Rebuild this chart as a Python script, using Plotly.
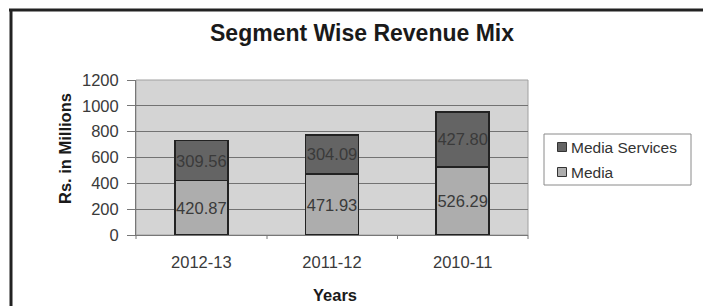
import plotly.graph_objects as go

years = ["2012-13", "2011-12", "2010-11"]
media = [420.87, 471.93, 526.29]
media_services = [309.56, 304.09, 427.80]
y_ticks = [0, 200, 400, 600, 800, 1000, 1200]
series_names = ["Media Services", "Media"]
series_colors = ["#646464", "#adadad"]

W, H = 703, 306
L, R, T, B = 136, 175, 80, 71
pw = W - L - R
ph = H - T - B
FONT = "Liberation Sans"

def px(x):
    return (x - L) / pw

def py(y):
    return (H - B - y) / ph

fig = go.Figure()
for name, vals, col in [("Media", media, series_colors[1]),
                        ("Media Services", media_services, series_colors[0])]:
    fig.add_trace(go.Bar(
        x=years, y=vals, name=name, showlegend=False,
        marker=dict(color=col, line=dict(color="#222222", width=1.5)),
        text=[f"{v:.2f}" for v in vals], textposition="inside",
        insidetextanchor="middle", textangle=0, constraintext="none",
        textfont=dict(size=16.5, color="#3a3a3a", family=FONT),
    ))

fig.update_layout(
    width=W, height=H,
    barmode="stack", bargap=0.595,
    margin=dict(l=L, r=R, t=T, b=B),
    paper_bgcolor="white", plot_bgcolor="#d4d4d4",
    font=dict(family=FONT, color="#333333"),
    title=dict(text="<b>Segment Wise Revenue Mix</b>", xref="container", x=362 / W,
               xanchor="center", yref="container", y=1 - 33 / H, yanchor="middle",
               font=dict(size=23, color="#1a1a1a", family=FONT)),
    showlegend=False,
)
fig.update_xaxes(
    type="category",
    showgrid=False, showline=True, linecolor="#777777", linewidth=1,
    ticks="", tickfont=dict(size=16.5, color="#3a3a3a"), ticklabelstandoff=12,
)
fig.update_yaxes(
    range=[0, 1200], tickvals=y_ticks, showgrid=True, gridcolor="#727272", gridwidth=1,
    showline=True, linecolor="#777777", linewidth=1, ticks="outside", ticklen=8,
    tickcolor="#777777", tickfont=dict(size=16.5, color="#3a3a3a"), zeroline=False,
    ticklabelstandoff=5,
)

# axis titles
fig.add_annotation(text="<b>Years</b>", xref="paper", yref="paper",
                   x=px(335), y=py(295), xanchor="center", yanchor="middle",
                   showarrow=False,
                   font=dict(size=16.5, color="#1a1a1a", family=FONT))
fig.add_annotation(text="<b>Rs. in Millions</b>", xref="paper", yref="paper",
                   x=px(65), y=py(149), xanchor="center", yanchor="middle",
                   showarrow=False, textangle=-90,
                   font=dict(size=16.5, color="#1a1a1a", family=FONT))

# category separator ticks on the x axis
for xc in [136, 267, 397.5, 528]:
    fig.add_shape(type="line", xref="paper", yref="paper",
                  x0=px(xc), x1=px(xc), y0=py(235), y1=py(239),
                  line=dict(color="#777777", width=1))

# plot area border
fig.add_shape(type="rect", xref="paper", yref="paper", x0=0, x1=1, y0=0, y1=1,
              line=dict(color="#a0a0a0", width=1), layer="below")

# legend (drawn manually)
fig.add_shape(type="rect", xref="paper", yref="paper",
              x0=px(544), x1=px(691), y0=py(134), y1=py(185),
              line=dict(color="#8a8a8a", width=1), fillcolor="white")
for i, (name, col) in enumerate(zip(series_names, series_colors)):
    yc = 147 + i * 25
    fig.add_shape(type="rect", xref="paper", yref="paper",
                  x0=px(557.5), x1=px(566.5), y0=py(yc + 4.5), y1=py(yc - 4.5),
                  line=dict(color="#333333", width=1), fillcolor=col)
    fig.add_annotation(text=name, xref="paper", yref="paper",
                       x=px(569), y=py(yc), xanchor="left", yanchor="middle",
                       showarrow=False,
                       font=dict(size=15.5, color="#333333", family=FONT))

# outer frame (top and left edges)
fig.add_shape(type="line", xref="paper", yref="paper",
              x0=px(9), x1=px(705), y0=py(10), y1=py(10),
              line=dict(color="#222222", width=3))
fig.add_shape(type="line", xref="paper", yref="paper",
              x0=px(11), x1=px(11), y0=py(9), y1=py(310),
              line=dict(color="#222222", width=3))

fig.write_html("out.html", config={"displayModeBar": False},
               post_script="document.body.style.margin='0';")
